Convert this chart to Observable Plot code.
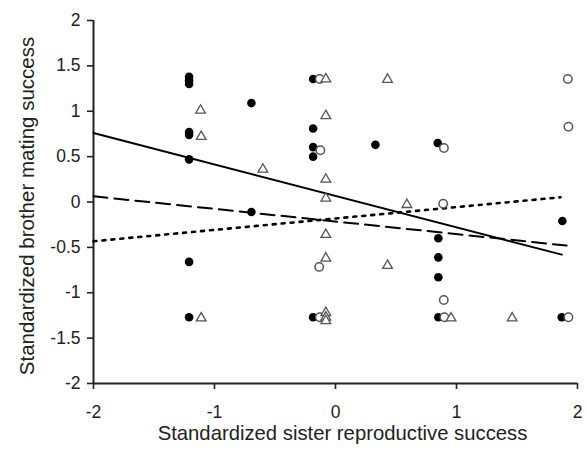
<!DOCTYPE html>
<html>
<head>
<meta charset="utf-8">
<script src="https://cdn.jsdelivr.net/npm/d3@7"></script>
<script src="https://cdn.jsdelivr.net/npm/@observablehq/plot@0.6"></script>
<style>
  html, body { margin: 0; padding: 0; background: white; }
</style>
</head>
<body>
<div id="chart"></div>
<script>
// Tick values
const xTicks = [-2, -1, 0, 1, 2];
const yTicks = [-2, -1.5, -1, -0.5, 0, 0.5, 1, 1.5, 2];

// Filled circles
const filledX = [-1.21, -1.21, -1.21, -1.21, -1.21, -1.21, -1.21, -1.21,
                 -0.695, -0.695,
                 -0.185, -0.185, -0.185, -0.185, -0.185,
                 0.33,
                 0.845, 0.85, 0.85, 0.85, 0.85,
                 1.875, 1.87];
const filledY = [1.38, 1.34, 1.30, 0.77, 0.74, 0.47, -0.66, -1.27,
                 1.09, -0.11,
                 1.355, 0.81, 0.605, 0.50, -1.27,
                 0.63,
                 0.65, -0.40, -0.61, -0.83, -1.27,
                 -0.21, -1.27];

// Open circles
const openX = [-0.13, 1.92, 1.925, -0.125, 0.896, 0.89, -0.135, 0.895, -0.13, 0.90, 1.925];
const openY = [1.355, 1.355, 0.83, 0.57, 0.595, -0.02, -0.715, -1.08, -1.27, -1.27, -1.27];

// Open triangles
const triX = [-1.115, -1.11, -1.11, -0.60, -0.08, 0.43, -0.08, -0.08, -0.08, 0.59,
              -0.08, -0.08, 0.43, -0.08, -0.08, -0.08, 0.955, 1.46];
const triY = [1.01, 0.72, -1.28, 0.36, 1.355, 1.35, 0.95, 0.25, 0.04, -0.03,
              -0.36, -0.62, -0.70, -1.22, -1.27, -1.31, -1.28, -1.28];

// Regression line endpoints
const solidX = [-2, 1.87];
const solidY = [0.76, -0.58];
const dashedX = [-2, 1.91];
const dashedY = [0.063, -0.48];
const dottedX = [-2, 1.86];
const dottedY = [-0.433, 0.052];

const xTitle = "Standardized sister reproductive success";
const yTitle = "Standardized brother mating success";

const zip = (xs, ys) => xs.map((x, i) => ({x, y: ys[i]}));
const filled = zip(filledX, filledY);
const open = zip(openX, openY);
const tri = zip(triX, triY);
const solid = zip(solidX, solidY);
const dashed = zip(dashedX, dashedY);
const dotted = zip(dottedX, dottedY);

const fmt = d => String(d);

const chart = Plot.plot({
  width: 587,
  height: 452,
  marginLeft: 93,
  marginRight: 10,
  marginTop: 20,
  marginBottom: 69,
  style: {
    fontFamily: "'Liberation Sans', Arial, sans-serif",
    fontSize: "17.5px",
    color: "#222",
    background: "white"
  },
  x: {domain: [-2, 2]},
  y: {domain: [-2, 2]},
  marks: [
    Plot.axisX(xTicks, {tickSize: 6, tickPadding: 16, tickFormat: fmt, label: null, fontSize: 17.5, strokeWidth: 1.6}),
    Plot.axisY(yTicks, {tickSize: 6, tickPadding: 7, tickFormat: fmt, label: null, fontSize: 17.5, strokeWidth: 1.6}),
    Plot.ruleY([-2], {stroke: "#222", strokeWidth: 2}),
    Plot.ruleX([-2], {stroke: "#222", strokeWidth: 2}),
    Plot.line(solid, {x: "x", y: "y", stroke: "black", strokeWidth: 2}),
    Plot.line(dashed, {x: "x", y: "y", stroke: "black", strokeWidth: 2, strokeDasharray: "14,7"}),
    Plot.line(dotted, {x: "x", y: "y", stroke: "black", strokeWidth: 2.6, strokeDasharray: "3,6"}),
    Plot.dot(filled, {x: "x", y: "y", r: 4.3, fill: "black"}),
    Plot.dot(open, {x: "x", y: "y", r: 4.2, fill: "white", stroke: "#555", strokeWidth: 1.5}),
    Plot.dot(tri, {x: "x", y: "y", r: 3.6, symbol: "triangle", fill: "white", stroke: "#555", strokeWidth: 1.3}),
    Plot.text([xTitle], {frameAnchor: "bottom", textAnchor: "middle", dy: 56, dx: 7, fontSize: 20.3, fill: "#222"}),
    Plot.text([yTitle], {frameAnchor: "left", textAnchor: "middle", dx: -66, dy: 4, rotate: -90, fontSize: 20.5, fill: "#222"})
  ]
});

document.getElementById("chart").appendChild(chart);
</script>
</body>
</html>
